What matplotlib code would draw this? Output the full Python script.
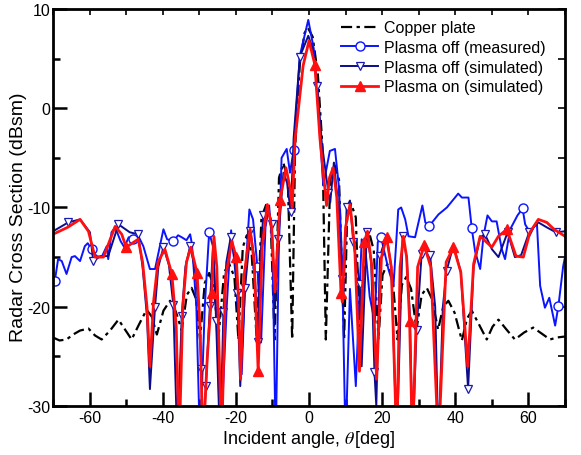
import matplotlib
matplotlib.use("Agg")
import matplotlib.pyplot as plt
from matplotlib.ticker import MultipleLocator, NullFormatter

plt.rcParams['font.family'] = ['Liberation Sans', 'DejaVu Sans']
plt.rcParams['mathtext.fontset'] = 'stix'
plt.rcParams['axes.unicode_minus'] = False

# ---- data (angle in deg, RCS in dBsm) ----
# values below -30 run off the bottom of the axes
copper_deg = [-70.0, -68.2, -66.3, -64.5, -62.6, -60.3, -58.5, -56.7, -54.4, -52.1,
              -50.3, -48.5, -46.5, -44.4, -43.0, -41.6, -39.8, -38.0, -36.4, -34.8,
              -33.4, -32.1, -30.9, -29.8, -28.5, -27.3, -26.0, -24.8, -23.2, -21.8,
              -20.4, -19.3, -18.1, -17.0, -15.7, -14.3, -13.0, -11.6, -10.5, -9.4,
              -8.2, -7.0, -5.8, -4.6, -3.8, -2.5, -1.2, -0.3, 1.0, 2.4,
              3.7, 4.6, 5.8, 6.8, 8.2, 9.6, 10.4, 11.5, 12.8, 13.9,
              15.3, 16.5, 17.7, 19.0, 20.1, 21.4, 22.8, 24.2, 25.4, 26.6,
              27.9, 29.4, 30.8, 32.2, 33.6, 35.3, 36.7, 38.1, 39.8, 41.8,
              43.2, 44.5, 46.5, 48.6, 50.2, 51.8, 54.0, 56.3, 58.8, 61.3,
              63.6, 65.9, 67.8, 70.0]
copper_rcs = [-23.1, -23.4, -23.3, -22.8, -22.4, -22.2, -22.9, -23.3, -22.4, -21.3,
              -22.3, -23.3, -21.8, -20.3, -21.0, -22.8, -20.4, -19.4, -20.5, -22.4,
              -18.8, -18.1, -19.2, -23.3, -17.6, -16.6, -18.0, -23.3, -16.5, -15.7,
              -17.0, -23.3, -14.0, -12.8, -14.5, -23.3, -11.0, -9.6, -11.2, -23.3,
              -7.0, -5.5, -7.2, -23.3, -4.0, 4.5, 7.6, 8.1, 7.2, 3.5,
              -4.0, -23.3, -7.2, -5.5, -7.2, -23.3, -11.2, -9.6, -11.0, -23.3,
              -14.3, -12.6, -14.3, -23.3, -16.8, -15.7, -16.8, -23.3, -17.8, -17.0,
              -18.2, -22.3, -18.8, -18.1, -19.2, -22.3, -20.0, -19.4, -20.6, -23.4,
              -21.2, -20.4, -21.8, -23.3, -22.0, -21.3, -22.3, -23.3, -22.6, -22.1,
              -22.7, -23.3, -23.1, -23.0]

meas_deg = [-70.0, -69.5, -68.6, -67.6, -66.3, -64.9, -64.0, -62.6, -61.3, -60.5,
            -59.4, -58.1, -56.7, -55.3, -54.9, -54.0, -53.0, -51.5, -50.5, -49.3,
            -48.0, -46.5, -45.3, -43.5, -42.1, -39.8, -38.8, -37.1, -35.8, -34.8,
            -33.5, -32.5, -32.0, -30.8, -29.8, -28.5, -27.3, -26.2, -25.0, -24.2,
            -22.5, -21.3, -20.0, -18.4, -17.3, -16.3, -15.3, -14.1, -13.1, -11.9,
            -10.9, -10.0, -9.1, -8.3, -7.5, -6.1, -5.2, -4.2, -2.5, -0.2,
            1.3, 2.5, 3.9, 5.7, 7.1, 8.2, 9.0, 10.0, 11.2, 12.8,
            14.4, 15.3, 16.6, 18.0, 18.8, 19.7, 21.7, 23.1, 24.4, 25.2,
            26.3, 27.2, 29.0, 31.0, 31.8, 32.8, 35.4, 37.7, 40.8, 41.8,
            43.6, 44.5, 45.4, 46.8, 47.7, 48.8, 50.0, 51.3, 52.7, 53.6,
            55.0, 57.0, 58.4, 59.1, 60.4, 62.3, 63.2, 64.5, 65.7, 67.3,
            68.2, 69.5, 70.0]
meas_rcs = [-17.6, -17.4, -15.2, -15.4, -16.7, -15.0, -14.9, -15.4, -13.9, -13.6,
            -14.2, -14.9, -15.0, -13.9, -15.2, -12.5, -12.0, -13.4, -14.0, -13.0,
            -13.2, -13.0, -13.9, -16.2, -16.2, -12.2, -13.2, -13.4, -12.8, -13.0,
            -13.3, -12.7, -13.7, -20.0, -34.0, -20.0, -12.5, -14.0, -24.0, -34.0,
            -20.0, -12.3, -17.0, -26.8, -16.0, -10.2, -11.2, -16.0, -23.6, -12.0,
            -9.8, -14.0, -34.0, -15.0, -5.0, -4.1, -6.5, -4.2, 5.3, 8.9,
            6.0, 0.0, -7.8, -4.3, -4.1, -8.0, -15.0, -34.0, -18.2, -28.0,
            -13.2, -13.8, -19.0, -21.6, -13.5, -13.0, -16.2, -17.9, -10.2, -10.0,
            -11.2, -12.9, -13.0, -9.8, -11.5, -11.9, -10.7, -10.0, -8.6, -9.0,
            -9.0, -12.1, -14.4, -16.2, -12.9, -10.8, -11.4, -11.4, -14.2, -15.2,
            -12.2, -10.8, -10.1, -11.7, -12.5, -11.5, -17.9, -20.1, -19.1, -21.9,
            -19.9, -15.9, -15.0]
meas_marks = [-69.5, -59.4, -48.0, -37.1, -27.3, -14.1, -4.2, 19.7, 32.8, 44.5, 58.4, 68.2]

off_deg = [-70.0, -65.8, -62.6, -59.9, -59.0, -57.0, -54.9, -52.1, -49.0, -46.7,
           -45.5, -44.3, -43.5, -42.1, -41.2, -39.8, -38.3, -37.1, -36.0, -34.8,
           -33.8, -32.5, -31.0, -30.0, -29.4, -29.0, -28.2, -27.1, -26.2, -25.4,
           -24.3, -23.4, -22.6, -21.4, -20.4, -19.6, -18.8, -17.5, -16.0, -15.0,
           -14.0, -13.3, -12.5, -11.4, -10.2, -9.3, -8.4, -7.0, -6.0, -5.0,
           -4.2, -2.5, -0.2, 1.0, 2.3, 3.5, 5.3, 5.8, 6.8, 7.8,
           8.9, 9.3, 10.3, 11.2, 12.1, 13.9, 14.4, 15.8, 17.0, 17.9,
           18.4, 19.4, 21.2, 22.5, 24.0, 25.6, 26.7, 27.6, 28.3, 29.4,
           30.8, 31.8, 33.1, 34.5, 35.4, 36.6, 37.6, 39.5, 41.5, 43.5,
           45.0, 46.8, 48.1, 50.0, 51.8, 54.3, 56.3, 58.0, 60.2, 62.7,
           65.0, 67.5, 70.0]
off_rcs = [-12.4, -11.5, -11.2, -12.5, -15.4, -14.9, -14.9, -11.7, -12.5, -12.7,
           -16.0, -21.0, -28.3, -20.0, -16.0, -14.0, -15.8, -19.8, -34.0, -20.9,
           -16.0, -13.9, -16.5, -21.0, -26.3, -34.0, -28.0, -19.9, -13.5, -21.4,
           -34.0, -20.5, -15.5, -13.0, -15.0, -18.6, -28.0, -18.1, -12.4, -15.0,
           -23.6, -15.0, -10.8, -9.8, -11.7, -20.0, -13.2, -6.5, -7.5, -10.5,
           -3.0, 5.2, 7.3, 6.0, 2.2, -3.5, -8.5, -9.5, -5.5, -9.0,
           -17.2, -20.0, -10.0, -9.3, -13.5, -17.7, -26.0, -12.5, -15.5, -26.6,
           -30.0, -14.9, -12.8, -16.0, -34.0, -12.9, -15.0, -21.0, -34.0, -22.3,
           -14.7, -13.6, -14.8, -20.0, -34.0, -20.0, -16.4, -13.8, -16.5, -28.3,
           -16.0, -13.0, -12.7, -14.2, -15.0, -12.5, -15.0, -14.8, -12.5, -11.5,
           -12.0, -12.5, -12.4]
off_marks = [-65.8, -59.0, -52.1, -46.7, -42.1, -39.8, -37.1, -34.8, -32.5, -29.4,
             -28.2, -27.1, -25.4, -23.4, -21.4, -19.6, -17.5, -16.0, -14.0, -12.5,
             -10.2, -8.4, -5.0, -2.5, 2.3, 5.3, 8.9, 10.3, 12.1, 13.9,
             15.8, 17.9, 19.4, 25.6, 29.4, 30.8, 33.1, 37.6, 43.5, 48.1,
             54.3, 60.2, 67.5]

on_deg = [-70.0, -66.0, -62.6, -60.3, -58.5, -56.2, -53.0, -51.2, -50.0, -46.7,
          -45.5, -44.3, -43.5, -42.5, -41.3, -39.4, -37.5, -36.3, -35.5, -34.5,
          -33.5, -32.3, -30.6, -29.8, -29.0, -27.8, -26.6, -26.0, -25.2, -23.9,
          -22.8, -21.1, -19.9, -19.3, -18.7, -17.8, -16.1, -15.0, -13.9, -12.8,
          -11.4, -10.2, -9.3, -7.9, -6.3, -5.2, -4.6, -3.8, -1.6, 0.0,
          1.6, 3.0, 4.8, 5.6, 6.6, 7.6, 8.75, 9.1, 10.0, 11.2,
          12.5, 13.8, 15.1, 16.0, 17.2, 18.5, 19.8, 21.2, 22.5, 24.0,
          24.9, 25.8, 26.7, 27.5, 28.3, 29.7, 31.5, 33.3, 35.4, 37.5,
          39.5, 41.5, 43.4, 45.0, 46.8, 50.0, 51.8, 54.1, 56.6, 58.6,
          60.4, 62.7, 65.0, 67.0, 70.0]
on_rcs = [-12.7, -12.0, -11.2, -12.4, -15.0, -15.0, -11.9, -12.7, -14.0, -13.2,
          -15.5, -20.0, -26.0, -19.5, -15.5, -14.2, -16.7, -22.0, -34.0, -20.0,
          -15.5, -14.0, -16.6, -22.0, -34.0, -25.0, -18.6, -12.9, -16.0, -34.0,
          -17.0, -13.4, -15.0, -19.0, -27.3, -17.0, -12.2, -15.5, -26.5, -14.0,
          -9.7, -12.0, -18.5, -9.2, -6.0, -8.0, -10.0, -3.1, 4.3, 6.8,
          4.4, -3.1, -9.8, -7.0, -6.0, -9.0, -18.6, -19.5, -12.0, -9.7,
          -14.0, -26.5, -13.5, -12.4, -16.0, -27.3, -15.0, -13.0, -16.0, -34.0,
          -16.0, -12.9, -15.0, -21.4, -34.0, -16.0, -13.8, -16.0, -34.0, -15.5,
          -14.0, -16.5, -26.0, -15.7, -12.9, -14.0, -12.9, -12.2, -14.9, -15.0,
          -12.5, -11.2, -11.5, -12.2, -12.9]
on_marks = [-50.0, -37.5, -30.6, -26.6, -19.9, -13.9, -7.9, 1.6, 8.75, 15.1,
            21.2, 27.5, 31.5, 39.5, 54.1]

fig = plt.figure(figsize=(5.81, 4.56), dpi=100)
ax = fig.add_axes([0.0912, 0.1075, 0.8813, 0.8706])

ax.plot(copper_deg, copper_rcs, color='black', lw=1.6, dashes=(5, 2, 1.5, 2),
        label='Copper plate')
ax.plot(meas_deg, meas_rcs, color='#0a14ff', lw=1.4, marker='o', ms=6.5,
        mfc='white', mec='#0a14ff', mew=1.0,
        markevery=[meas_deg.index(a) for a in meas_marks],
        label='Plasma off (measured)')
ax.plot(off_deg, off_rcs, color='#0c0c8c', lw=1.4, marker='v', ms=5.5,
        mfc='white', mec='#1a1ab0', mew=0.9,
        markevery=[off_deg.index(a) for a in off_marks],
        label='Plasma off (simulated)')
ax.plot(on_deg, on_rcs, color='#ff1010', lw=2.0, marker='^', ms=7.5,
        mfc='#ff1010', mec='#ff1010',
        markevery=[on_deg.index(a) for a in on_marks],
        label='Plasma on (simulated)')

ax.set_xlim(-70, 70)
ax.set_ylim(-30, 10)
ax.xaxis.set_major_locator(MultipleLocator(20))
ax.xaxis.set_minor_locator(MultipleLocator(10))
ax.yaxis.set_major_locator(MultipleLocator(10))
ax.yaxis.set_minor_locator(MultipleLocator(5))
ax.tick_params(which='major', direction='in', length=10, width=1.8,
               labelsize=11.5, pad=3)
ax.tick_params(which='minor', direction='in', length=5, width=1.8)
ax.tick_params(axis='y', which='major', pad=2)
for s in ax.spines.values():
    s.set_linewidth(2.0)

top = ax.secondary_xaxis('top')
top.xaxis.set_major_locator(MultipleLocator(10))
top.tick_params(direction='in', length=4, width=1.2, labeltop=False)
top.xaxis.set_major_formatter(NullFormatter())
right = ax.secondary_yaxis('right')
right.yaxis.set_major_locator(MultipleLocator(5))
right.tick_params(direction='in', length=5, width=1.2, labelright=False)
right.yaxis.set_major_formatter(NullFormatter())

ax.set_xlabel(r'Incident angle, $\theta\,$[deg]', fontsize=13, labelpad=2)
ax.set_ylabel('Radar Cross Section (dBsm)', fontsize=14)
ax.yaxis.set_label_coords(-0.05, 0.479)

ax.legend(loc='upper left', bbox_to_anchor=(0.563, 0.972), frameon=False,
          fontsize=11.5, handlelength=2.3, handletextpad=0.35,
          labelspacing=0.3, borderpad=0, borderaxespad=0, numpoints=1)

fig.savefig('out.png', dpi=100)
